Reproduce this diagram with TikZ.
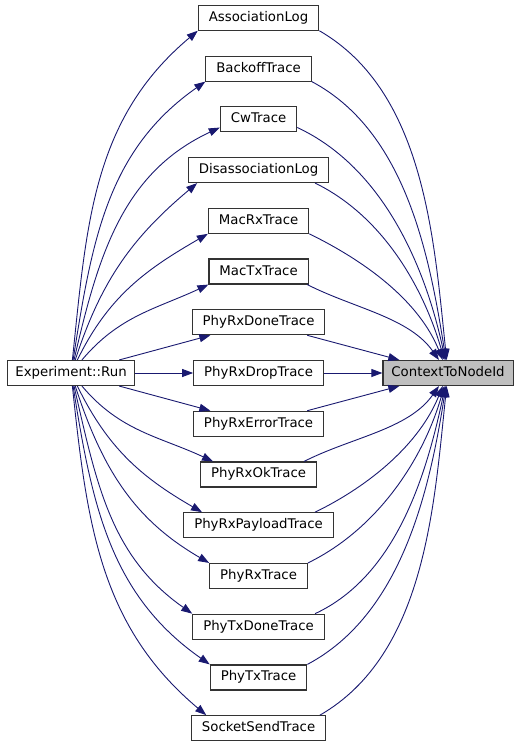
\documentclass[tikz,border=0pt]{standalone}
\usepackage{fontspec}
\setmainfont{DejaVu Sans}
\usetikzlibrary{matrix,arrows.meta}
\definecolor{edgeblue}{HTML}{191970}
\definecolor{rootgray}{HTML}{BFBFBF}

\begin{document}
\begin{tikzpicture}[x=1pt,y=1pt]
  \useasboundingbox (0,0) rectangle (520,-747);
  \matrix (m) at (260.5,-373) [matrix of nodes,row sep=24.64pt,column sep=48.5pt,
    nodes={draw=black!80,line width=1.1pt,fill=white,font=\fontsize{13.3pt}{16pt}\selectfont,
           inner xsep=10.5pt,minimum height=25pt,text height=10pt,text depth=3pt}]
  {
                    & AssociationLog    &                 \\
                    & BackoffTrace      &                 \\
                    & CwTrace           &                 \\
                    & DisassociationLog &                 \\
                    & MacRxTrace        &                 \\
                    & MacTxTrace        &                 \\
                    & PhyRxDoneTrace    &                 \\
    |[inner xsep=7.5pt]| Experiment::Run & PhyRxDropTrace & |[fill=rootgray,inner xsep=8.5pt]| ContextToNodeId \\
                    & PhyRxErrorTrace   &                 \\
                    & PhyRxOkTrace      &                 \\
                    & PhyRxPayloadTrace &                 \\
                    & PhyRxTrace        &                 \\
                    & PhyTxDoneTrace    &                 \\
                    & PhyTxTrace        &                 \\
                    & SocketSendTrace   &                 \\
  };
  \path[-{Triangle[length=11pt,width=8pt]},edgeblue,line width=0.9pt]
    (m-8-1) edge [out=84,in=220]  (m-1-2.192)
            edge [out=81,in=215]  (m-2-2.south west)
            edge [out=77,in=205]  (m-3-2.192)
            edge [out=72,in=220]  (m-4-2.192)
            edge [out=64,in=210]  (m-5-2.south west)
            edge [out=50,in=205]  (m-6-2.south west)
            edge                  (m-7-2)
            edge                  (m-8-2)
            edge                  (m-9-2)
            edge [out=-50,in=155] (m-10-2.164)
            edge [out=-64,in=150] (m-11-2.167)
            edge [out=-72,in=150] (m-12-2.north west)
            edge [out=-77,in=145] (m-13-2.north west)
            edge [out=-81,in=145] (m-14-2.north west)
            edge [out=-84,in=140] (m-15-2.166)
    (m-7-2) edge                  (m-8-3)
    (m-8-2) edge                  (m-8-3)
    (m-9-2) edge                  (m-8-3)
  ;
  \path[-{Triangle[length=11pt,width=8pt]},edgeblue,line width=0.9pt,looseness=0.88]
    (m-1-2.348)         edge [out=-30,in=96]  (m-8-3)
    (m-2-2.south east)  edge [out=-28,in=99]  (m-8-3)
    (m-3-2.348)         edge [out=-25,in=102] (m-8-3)
    (m-4-2.347)         edge [out=-26,in=106] (m-8-3)
    (m-5-2.south east)  edge [out=-26,in=112] (m-8-3)
    (m-6-2.345)         edge [out=-27,in=125] (m-8-3)
    (m-10-2.16)         edge [out=27,in=-125] (m-8-3)
    (m-11-2.13)         edge [out=26,in=-112] (m-8-3)
    (m-12-2.north east) edge [out=26,in=-106] (m-8-3)
    (m-13-2.13)         edge [out=25,in=-102] (m-8-3)
    (m-14-2.north east) edge [out=28,in=-99]  (m-8-3)
    (m-15-2.12)         edge [out=30,in=-96]  (m-8-3)
  ;
\end{tikzpicture}
\end{document}
